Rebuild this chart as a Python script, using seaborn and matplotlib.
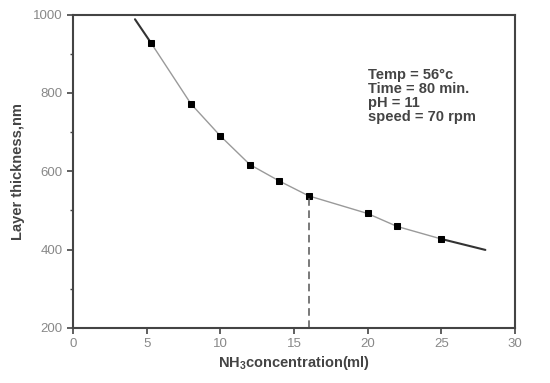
import pandas as pd
import matplotlib
matplotlib.use('Agg')
import matplotlib.pyplot as plt
import seaborn as sns
from matplotlib.ticker import MultipleLocator

# measured points
conc = [5.3, 8, 10, 12, 14, 16, 20, 22, 25]
thickness = [927, 772, 690, 617, 575, 537, 492, 459, 427]
# ends of the fitted curve outside the measured range
left_x = [4.2, 5.3]
left_y = [988, 927]
right_x = [25, 28]
right_y = [427, 399]
drop_x = 16
drop_y = 537
notes = ['Temp = 56°c', 'Time = 80 min.', 'pH = 11', 'speed = 70 rpm']

df = pd.DataFrame({'conc': conc, 'thickness': thickness})

sns.set_style('ticks')
plt.rcParams['font.family'] = ['Liberation Sans', 'DejaVu Sans']
plt.rcParams['mathtext.default'] = 'regular'

fig = plt.figure(figsize=(5.5, 3.83), dpi=100)
ax = fig.add_axes([0.133, 0.144, 0.803, 0.818])

ax.plot(left_x, left_y, color='#333333', lw=1.5)
ax.plot(right_x, right_y, color='#333333', lw=1.5)
sns.lineplot(data=df, x='conc', y='thickness', color='#9a9a9a', lw=1.0,
             marker='s', markersize=4.5, markerfacecolor='black',
             markeredgecolor='black', ax=ax)
ax.plot([drop_x, drop_x], [200, drop_y], color='#555555', lw=1.1,
        dashes=(5, 3))

ax.set_xlim(0, 30)
ax.set_ylim(200, 1000)
ax.xaxis.set_major_locator(MultipleLocator(5))
ax.yaxis.set_major_locator(MultipleLocator(200))
ax.yaxis.set_minor_locator(MultipleLocator(100))
ax.tick_params(axis='both', which='major', direction='out', length=4,
               width=1.2, colors='#444444', labelcolor='#888888',
               labelsize=9.5)
ax.tick_params(axis='y', which='minor', direction='out', length=2,
               width=1, colors='#444444')
for sp in ax.spines.values():
    sp.set_color('#444444')
    sp.set_linewidth(1.5)

ax.set_xlabel('NH$_3$concentration(ml)', fontsize=10.5, fontweight='bold',
              color='#444444', labelpad=3)
ax.set_ylabel('Layer thickness,nm', fontsize=10.5, fontweight='bold',
              color='#444444', labelpad=6)

for i, t in enumerate(notes):
    ax.text(20.0, 846 - i * 36, t, fontsize=10.5, fontweight='bold',
            color='#444444', va='center', ha='left')

plt.savefig('out.png', dpi=100)
